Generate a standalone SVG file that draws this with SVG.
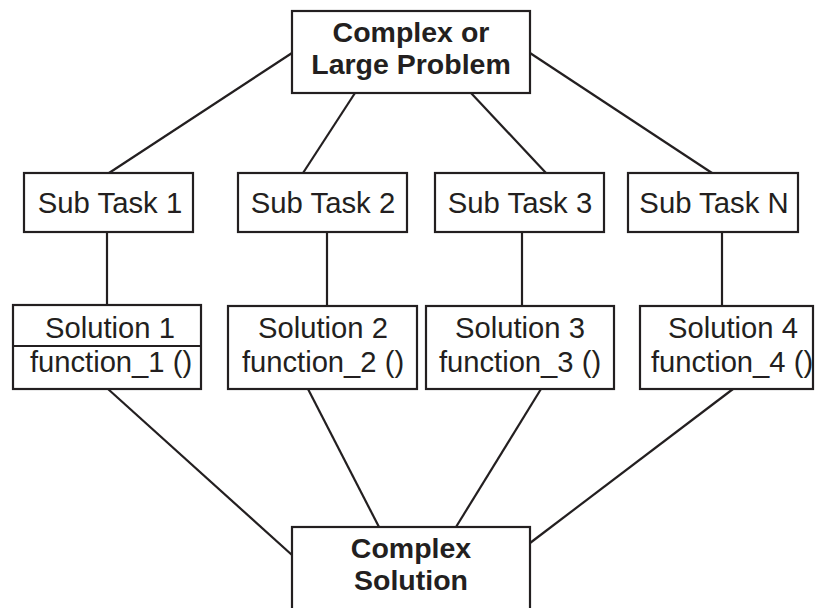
<svg xmlns="http://www.w3.org/2000/svg" width="816" height="608" viewBox="0 0 816 608">
  <style>
    .box { fill: #ffffff; stroke: #231f20; stroke-width: 2.2; }
    .link { stroke: #231f20; stroke-width: 2.2; fill: none; }
    .t { font-family: "Liberation Sans", Arial, sans-serif; fill: #231f20; text-anchor: middle; }
    .bold { font-weight: bold; font-size: 28.5px; }
    .reg { font-size: 29.3px; }
    .sol { font-size: 29.2px; }
  </style>
  <rect x="0" y="0" width="816" height="608" fill="#ffffff"/>

  <!-- connectors -->
  <g id="connectors">
    <line class="link" x1="292" y1="53" x2="109" y2="173"/>
    <line class="link" x1="355" y1="93" x2="303" y2="173"/>
    <line class="link" x1="471" y1="93" x2="546" y2="173"/>
    <line class="link" x1="530" y1="53" x2="712" y2="173"/>
    <line class="link" x1="107" y1="232" x2="107" y2="305"/>
    <line class="link" x1="327" y1="232" x2="327" y2="306"/>
    <line class="link" x1="522" y1="232" x2="522" y2="306"/>
    <line class="link" x1="722" y1="232" x2="722" y2="306"/>
    <line class="link" x1="108" y1="389" x2="292" y2="555"/>
    <line class="link" x1="308" y1="389" x2="379" y2="527"/>
    <line class="link" x1="541" y1="389" x2="456" y2="527"/>
    <line class="link" x1="733" y1="389" x2="530" y2="543"/>
  </g>

  <g id="problem">
    <rect class="box" x="292" y="11" width="238" height="82"/>
    <text class="t bold" x="411" y="42">Complex or</text>
    <text class="t bold" x="411" y="74">Large Problem</text>
  </g>

  <g id="task1">
    <rect class="box" x="24" y="173" width="169" height="59"/>
    <text class="t reg" x="110" y="213">Sub Task 1</text>
  </g>
  <g id="task2">
    <rect class="box" x="238" y="173" width="169" height="59"/>
    <text class="t reg" x="323" y="213">Sub Task 2</text>
  </g>
  <g id="task3">
    <rect class="box" x="435" y="173" width="169" height="59"/>
    <text class="t reg" x="520" y="213">Sub Task 3</text>
  </g>
  <g id="taskN">
    <rect class="box" x="628" y="173" width="170" height="59"/>
    <text class="t reg" x="714" y="213">Sub Task N</text>
  </g>

  <g id="solution1">
    <rect class="box" x="13" y="305" width="188" height="84"/>
    <line class="link" x1="13" y1="346" x2="201" y2="346"/>
    <text class="t sol" x="110" y="338">Solution 1</text>
    <text class="t sol" x="111" y="372">function_1 ()</text>
  </g>
  <g id="solution2">
    <rect class="box" x="228" y="306" width="189" height="83"/>
    <text class="t sol" x="323" y="338">Solution 2</text>
    <text class="t sol" x="323" y="372">function_2 ()</text>
  </g>
  <g id="solution3">
    <rect class="box" x="426" y="306" width="188" height="83"/>
    <text class="t sol" x="520" y="338">Solution 3</text>
    <text class="t sol" x="520" y="372">function_3 ()</text>
  </g>
  <g id="solution4">
    <rect class="box" x="640" y="306" width="173" height="83"/>
    <text class="t sol" x="733" y="338">Solution 4</text>
    <text class="t sol" x="732" y="372">function_4 ()</text>
  </g>

  <g id="complex-solution">
    <rect class="box" x="292" y="527" width="238" height="100"/>
    <text class="t bold" x="411" y="558">Complex</text>
    <text class="t bold" x="411" y="590">Solution</text>
  </g>
</svg>
